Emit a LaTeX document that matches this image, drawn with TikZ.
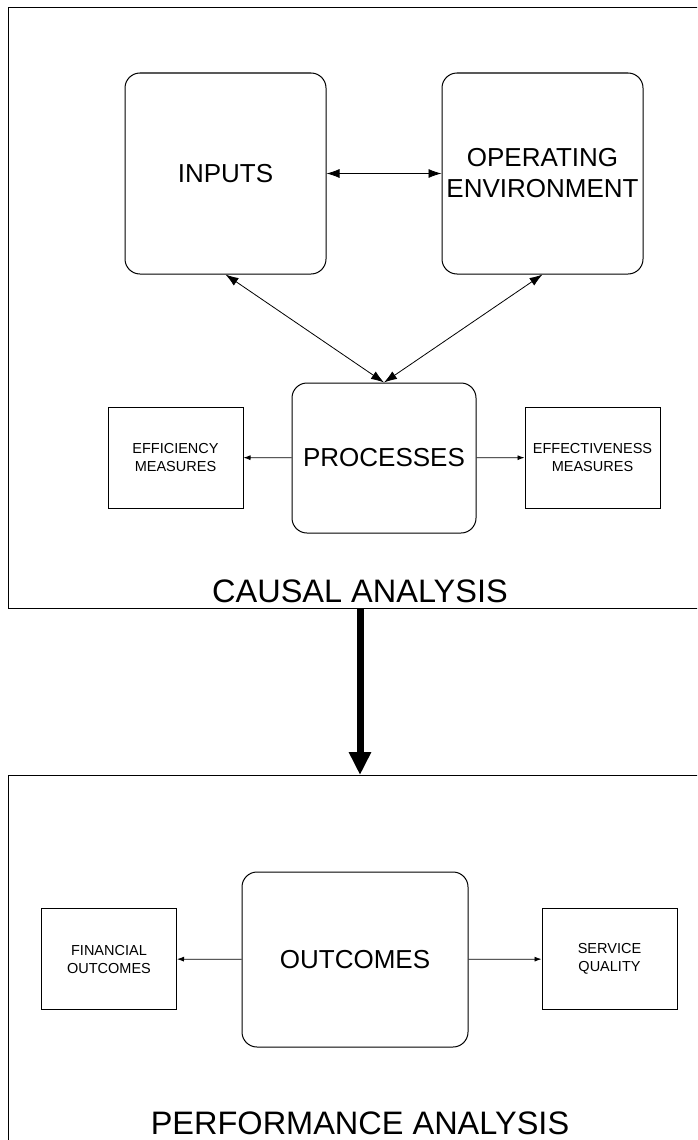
\documentclass[tikz,border=0pt]{standalone}
\usepackage{fontspec}
\setmainfont{Liberation Sans}
\usetikzlibrary{arrows.meta}
\tikzset{
  roundbox/.style={draw, rounded corners=15pt, inner sep=0pt, align=center,
    font=\fontsize{26}{31}\selectfont},
  measurebox/.style={draw, inner sep=0pt, align=center, minimum width=135pt,
    minimum height=101pt, font=\fontsize{14.5}{18}\selectfont},
  link/.style={line width=0.8pt, {Latex[length=13pt,width=9pt]}-{Latex[length=13pt,width=9pt]}},
  outlink/.style={line width=0.8pt, -{Latex[length=7pt,width=5pt]}},
  title/.style={font=\fontsize{32.5}{38}\selectfont, anchor=base}
}
\begin{document}
\begin{tikzpicture}[x=1pt, y=-1pt, line width=1pt]
\useasboundingbox (0,0) rectangle (697,1140);
\clip (0,0) rectangle (697,1140);
\draw (8,8) rectangle (720,608);
\draw (8,775) rectangle (720,1170);
\path (360,608) coordinate (causalfoot);
\path (360,775) coordinate (perfhead);
\node[roundbox, minimum width=201pt, minimum height=201pt] (inputs) at (225.5,173.5) {INPUTS};
\node[roundbox, minimum width=201pt, minimum height=201pt] (operating) at (542.5,173.5) {OPERATING\\ENVIRONMENT};
\node[roundbox, minimum width=184pt, minimum height=150pt] (processes) at (384,458) {PROCESSES};
\node[measurebox] (efficiency) at (175.5,457.5) {EFFICIENCY\\MEASURES};
\node[measurebox] (effectiveness) at (592.5,457.5) {EFFECTIVENESS\\MEASURES};
\node[title] (causal) at (360,602) {CAUSAL ANALYSIS};
\draw[link] (inputs) -- (operating);
\draw[link] (inputs.south) -- (processes.north);
\draw[link] (operating.south) -- (processes.north);
\draw[outlink] (processes) -- (efficiency);
\draw[outlink] (processes) -- (effectiveness);
\draw[line width=7pt, -{Triangle[length=23pt,width=21pt]}] (causalfoot) -- (perfhead);
\node[roundbox, minimum width=226pt, minimum height=175pt] (outcomes) at (355,959.5) {OUTCOMES};
\node[measurebox] (financial) at (109,959) {FINANCIAL\\OUTCOMES};
\node[measurebox] (service) at (609.5,959) {SERVICE\\QUALITY};
\node[title] (performance) at (360,1134) {PERFORMANCE ANALYSIS};
\draw[outlink] (outcomes) -- (financial);
\draw[outlink] (outcomes) -- (service);
\end{tikzpicture}
\end{document}
